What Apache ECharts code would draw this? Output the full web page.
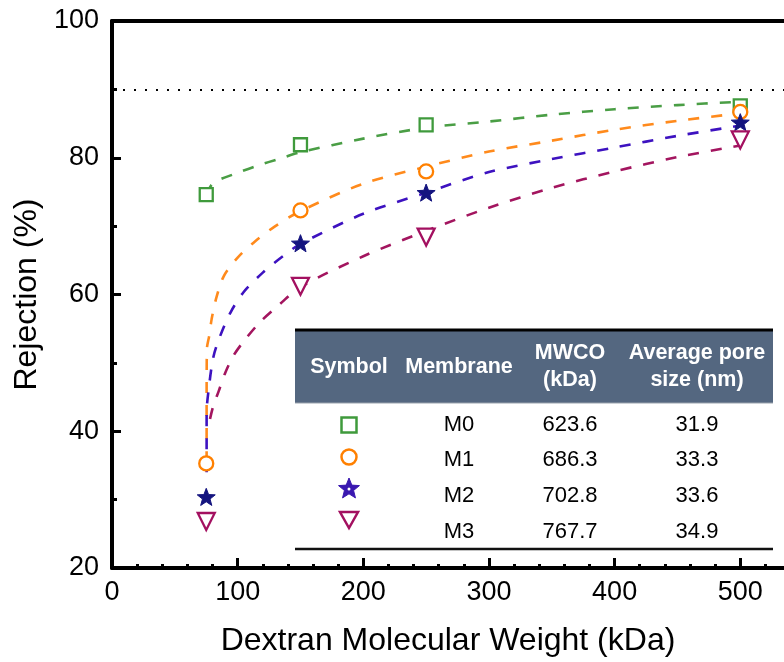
<!DOCTYPE html>
<html>
<head>
<meta charset="utf-8">
<script src="https://cdn.jsdelivr.net/npm/echarts@6/dist/echarts.min.js"></script>
<style>
html,body{margin:0;padding:0;background:#fff;}
#chart{width:784px;height:662px;}
</style>
</head>
<body>
<div id="chart"></div>
<script>
// ---- Data ----
const xTicks = [0, 100, 200, 300, 400, 500];
const xMinorTicks = [20, 40, 60, 80, 120, 140, 160, 180, 220, 240, 260, 280, 320, 340, 360, 380, 420, 440, 460, 480, 520];
const xMax = 534.8;
const yTicks = [20, 40, 60, 80, 100];
const membranes = ['M0', 'M1', 'M2', 'M3'];
const mwco = ['623.6', '686.3', '702.8', '767.7'];
const poreSize = ['31.9', '33.3', '33.6', '34.9'];
const headers = ['Symbol', 'Membrane', 'MWCO\n(kDa)', 'Average pore\nsize (nm)'];

// measured points [MW kDa, rejection %]
const m0Points = [[75, 74.6], [150, 81.9], [250, 84.8], [500, 87.6]];
const m1Points = [[75, 35.3], [150, 72.3], [250, 78.0], [500, 86.7]];
const m2Points = [[75, 30.4], [150, 67.5], [250, 74.9], [500, 85.2]];
const m3Points = [[75, 26.8], [150, 61.2], [250, 68.4], [500, 82.6]];

// fitted curves
const m0Fit = [[75, 74.6], [80.6, 76.3], [97, 77.6], [115, 78.8], [134, 79.9], [150, 80.8], [200, 82.8], [250, 84.4], [300, 85.3], [350, 86.3], [400, 87.1], [450, 87.7], [500, 88.2]];
const m1Fit = [[75.3, 35.5], [75.3, 44], [75.5, 52], [77.4, 54], [79.3, 56.4], [83, 59.5], [89, 62.7], [100, 65.4], [114, 67.8], [130, 70], [150, 72.2], [200, 76.2], [250, 78.7], [300, 80.9], [350, 82.5], [400, 84.1], [450, 85.4], [500, 86.5]];
const m2Fit = [[75.3, 34], [75.3, 42.7], [76.6, 45.6], [80.6, 50.8], [86, 53.9], [94.4, 57.4], [104.5, 60.3], [120, 63.2], [136, 65.6], [150, 67.4], [200, 71.8], [250, 74.9], [300, 77.9], [350, 79.8], [400, 81.5], [450, 83.2], [500, 84.7]];
const m3Fit = [[78, 41.8], [80.6, 43.7], [85, 45.9], [90, 48.5], [96.5, 51], [105, 53.2], [118, 56], [133, 58.5], [150, 61.1], [200, 65.6], [250, 69.3], [300, 72.7], [350, 75.6], [400, 78], [450, 80.1], [500, 81.8]];
const refLine = 90;

// ---- Styles ----
const FONT = 'Liberation Sans, Arial, sans-serif';
const lineColors = ['#4a9e45', '#ff8a1c', '#3d12c0', '#a3155f'];
const markColors = ['#3f9a3c', '#ff8000', '#14147f', '#a31060'];
const starPath = 'path://M100,0 L124.7,66 L195.1,69.1 L139.9,113 L158.8,180.9 L100,142 L41.2,180.9 L60.1,113 L4.9,69.1 L75.3,66 Z';

function fitSeries(data, i) {
  return {
    type: 'line', data: data, xAxisIndex: 0, yAxisIndex: 0,
    symbol: 'none', smooth: 0.3, z: 2, silent: true,
    lineStyle: { color: lineColors[i], width: 2.6, type: [11, 12] }
  };
}
function markSeries(data, i, symbol, size, extra) {
  return Object.assign({
    type: 'scatter', data: data, xAxisIndex: 0, yAxisIndex: 0,
    symbol: symbol, symbolSize: size, z: 4, silent: true,
    itemStyle: { color: '#fff', borderColor: markColors[i], borderWidth: 2.3, opacity: 1 }
  }, extra || {});
}

const series = [
  Object.assign(fitSeries(m0Fit, 0), {
    markLine: {
      silent: true, symbol: 'none', animation: false,
      label: { show: false },
      lineStyle: { color: '#000', width: 2, type: [2, 9] },
      data: [{ yAxis: refLine }]
    }
  }),
  fitSeries(m1Fit, 1),
  fitSeries(m2Fit, 2),
  fitSeries(m3Fit, 3),
  markSeries(m0Points, 0, 'rect', 13),
  markSeries(m1Points, 1, 'circle', 14),
  markSeries(m2Points, 2, starPath, 18, {
    symbolKeepAspect: true,
    itemStyle: { color: markColors[2], borderColor: markColors[2], borderWidth: 1, opacity: 1 }
  }),
  markSeries(m3Points, 3, 'triangle', 17, { symbolRotate: 180 })
];

// ---- Table overlay (graphic) ----
const tblL = 295, tblR = 773;
const colX = [349, 459, 570, 697];
const rowY = [425, 460, 496, 532];
const symY = [425, 457, 488, 519];
const graphic = [];
graphic.push({ type: 'rect', shape: { x: tblL, y: 330, width: tblR - tblL, height: 73 }, style: { fill: '#546780' }, z: 10 });
graphic.push({ type: 'line', shape: { x1: tblL, y1: 403, x2: tblR, y2: 403 }, style: { stroke: '#9aa3ad', lineWidth: 1 }, z: 11 });
graphic.push({ type: 'line', shape: { x1: tblL, y1: 330, x2: tblR, y2: 330 }, style: { stroke: '#000', lineWidth: 3 }, z: 11 });
graphic.push({ type: 'line', shape: { x1: tblL, y1: 549, x2: tblR, y2: 549 }, style: { stroke: '#111', lineWidth: 2.5 }, z: 11 });
headers.forEach(function (h, i) {
  graphic.push({
    type: 'text', x: colX[i], y: 367, z: 12,
    style: { text: h, fill: '#fff', font: 'bold 21.5px ' + FONT, align: 'center', verticalAlign: 'middle', lineHeight: 27 }
  });
});
membranes.forEach(function (m, r) {
  [m, mwco[r], poreSize[r]].forEach(function (t, c) {
    graphic.push({
      type: 'text', x: colX[c + 1], y: rowY[r], z: 12,
      style: { text: t, fill: '#000', font: '22px ' + FONT, align: 'center', verticalAlign: 'middle' }
    });
  });
});
// table symbols
const sx = colX[0];
graphic.push({ type: 'rect', shape: { x: sx - 7.5, y: symY[0] - 7.5, width: 15, height: 15 }, style: { fill: 'none', stroke: markColors[0], lineWidth: 2.5 }, z: 12 });
graphic.push({ type: 'circle', shape: { cx: sx, cy: symY[1], r: 7.5 }, style: { fill: 'none', stroke: markColors[1], lineWidth: 2.5 }, z: 12 });
(function () {
  const pts = [];
  for (let k = 0; k < 10; k++) {
    const a = -Math.PI / 2 + k * Math.PI / 5;
    const rr = k % 2 === 0 ? 11 : 4.8;
    pts.push([sx + rr * Math.cos(a), symY[2] + 1 + rr * Math.sin(a)]);
  }
  graphic.push({ type: 'polygon', shape: { points: pts }, style: { fill: '#3a18b0', stroke: '#3a18b0', lineWidth: 1 }, z: 12 });
  graphic.push({ type: 'circle', shape: { cx: sx, cy: symY[2] + 1, r: 1.5 }, style: { fill: '#fff' }, z: 13 });
})();
graphic.push({ type: 'polygon', shape: { points: [[sx - 9, symY[3] - 7], [sx + 9, symY[3] - 7], [sx, symY[3] + 9]] }, style: { fill: 'none', stroke: markColors[3], lineWidth: 2.5 }, z: 12 });

// ---- Chart ----
const chart = echarts.init(document.getElementById('chart'), null, { renderer: 'canvas' });
const axisBlack = { color: '#000', width: 4 };
chart.setOption({
  animation: false,
  backgroundColor: '#fff',
  grid: { left: 112, top: 21, bottom: 93, right: 0, containLabel: false },
  xAxis: [{
    type: 'value', min: xTicks[0], max: xMax, position: 'bottom',
    name: 'Dextran Molecular Weight (kDa)', nameLocation: 'middle', nameGap: 57,
    nameTextStyle: { fontSize: 32, color: '#000', fontFamily: FONT },
    axisLine: { show: true, onZero: false, lineStyle: axisBlack },
    axisTick: { show: true, inside: true, length: 10, customValues: xTicks, lineStyle: { color: '#000', width: 3 } },
    minorTick: { show: false },
    axisLabel: { show: true, fontSize: 27, color: '#000', fontFamily: FONT, margin: 11, customValues: xTicks },
    splitLine: { show: false }
  }, {
    type: 'value', min: xTicks[0], max: xMax, position: 'bottom',
    axisLine: { show: false },
    axisTick: { show: true, inside: true, length: 4, customValues: xMinorTicks, lineStyle: { color: '#000', width: 3 } },
    axisLabel: { show: false }, splitLine: { show: false }
  }, {
    type: 'value', min: xTicks[0], max: xMax, position: 'top',
    axisLine: { show: true, onZero: false, lineStyle: axisBlack },
    axisTick: { show: false }, axisLabel: { show: false }, splitLine: { show: false }
  }],
  yAxis: [{
    type: 'value', min: yTicks[0], max: yTicks[yTicks.length - 1], interval: 20, position: 'left',
    name: 'Rejection (%)', nameLocation: 'middle', nameGap: 67,
    nameTextStyle: { fontSize: 32, color: '#000', fontFamily: FONT },
    axisLine: { show: true, onZero: false, lineStyle: axisBlack },
    axisTick: { show: true, inside: true, length: 9, lineStyle: { color: '#000', width: 3 } },
    minorTick: { show: true, splitNumber: 2, length: 5, lineStyle: { color: '#000', width: 3 } },
    axisLabel: {
      show: true, fontSize: 27, color: '#000', fontFamily: FONT, margin: 13,
      showMinLabel: true, showMaxLabel: true
    },
    splitLine: { show: false }, minorSplitLine: { show: false }
  }],
  series: series,
  graphic: graphic
});
</script>
</body>
</html>
